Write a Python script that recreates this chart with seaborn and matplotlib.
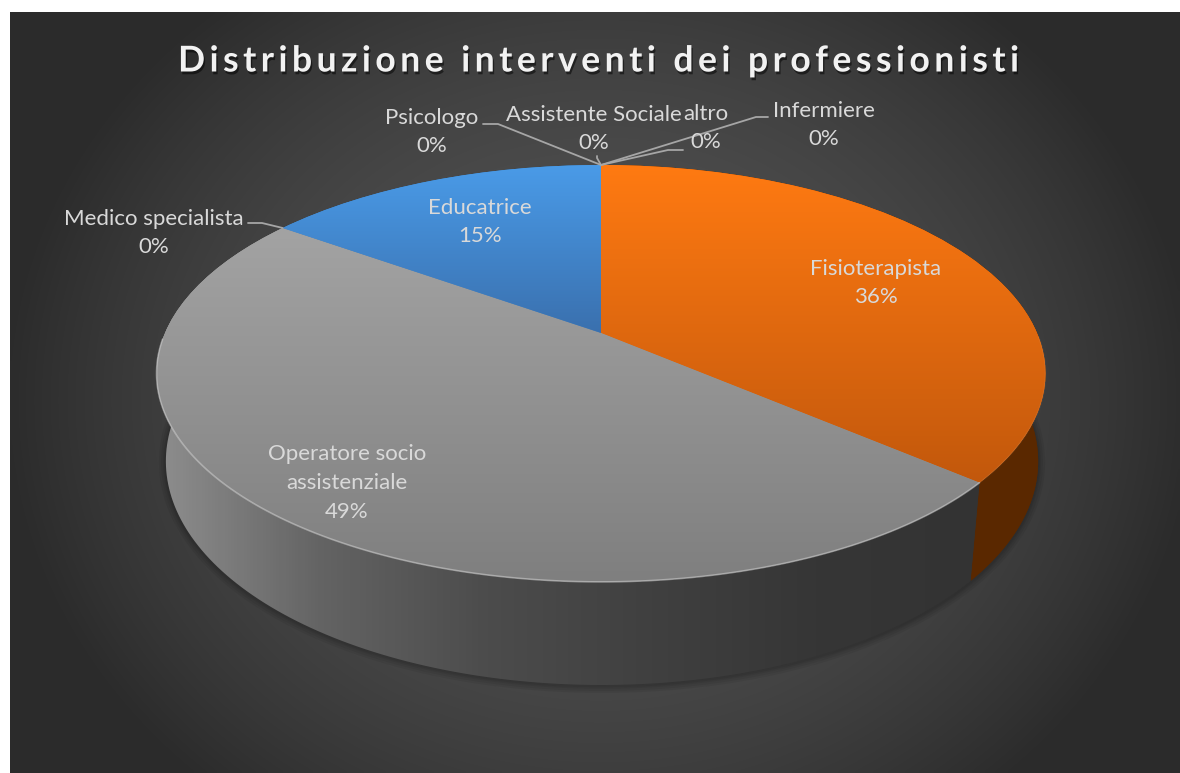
import numpy as np
import matplotlib
matplotlib.use("Agg")
import matplotlib.pyplot as plt
import matplotlib.patheffects as pe
from matplotlib.transforms import Transform
import seaborn as sns

# data
professioni = ["Fisioterapista", "Operatore socio\nassistenziale", "Medico specialista", "Educatrice",
               "Psicologo", "Assistente Sociale", "altro", "Infermiere"]
valori = [36.3, 48.6, 0, 15.1, 0, 0, 0, 0]
titolo = "Distribuzione interventi dei professionisti"

# colours: top of the slice, bottom of the slice, side wall from left to right
col_top = ["#ff7a12", "#a3a3a3", "#a3a3a3", "#4a9be8", "#777777", "#777777", "#777777", "#777777"]
col_bot = ["#c2580c", "#7f7f7f", "#828282", "#3a70ae", "#777777", "#777777", "#777777", "#777777"]
col_wall = [["#5e2b02", "#5a2800"],
            ["#8e8e8e", "#636363", "#4c4c4c", "#404040", "#363636", "#333333"],
            ["#555555", "#555555"],
            ["#333333", "#333333"],
            ["#555555", "#555555"], ["#555555", "#555555"], ["#555555", "#555555"], ["#555555", "#555555"]]
rim_alpha = [0.08, 0.55, 0, 0, 0, 0, 0, 0]

# label centre (pixels) and where the leader line starts, None = no leader
lab_pos = [(876, 283), (347, 483), (154, 233), (480, 222), (432, 132), (594, 129), (706, 128), (824, 125)]
lead = [None, None, [(248, 223), (262, 223)], None, [(483, 124), (498, 124)], [(597, 156), (597, 158)],
        [(683, 150), (668, 150)], [(768, 117), (756, 117)]]


class Tilt(Transform):
    # perspective view of the unit circle
    input_dims = 2
    output_dims = 2

    def __init__(self, cx, cy, a, b, k=0.194):
        super().__init__()
        self.cx, self.cy, self.a, self.b, self.k = cx, cy, a, b, k

    def transform_non_affine(self, values):
        values = np.asarray(values, dtype=float)
        d = 1 + self.k * values[:, 1]
        return np.column_stack([self.cx + self.a * values[:, 0] / d, self.cy - self.b * values[:, 1] / d])


def gradiente(poly, colori, zorder, vertical=True):
    cmap = sns.blend_palette(colori, as_cmap=True)
    g = np.linspace(0, 1, 256)
    g = g[:, None] if vertical else g[None, :]
    ext = (poly[:, 0].min(), poly[:, 0].max(), poly[:, 1].max(), poly[:, 1].min())
    return ax.imshow(g, cmap=cmap, vmin=0, vmax=1, extent=ext, aspect="auto", zorder=zorder)


sns.set_theme(style="white")
plt.rcParams["font.family"] = ["Lato", "DejaVu Sans"]

fig = plt.figure(figsize=(11.8, 7.73), dpi=100, facecolor="white")
ax = fig.add_axes([0, 0, 1, 1])

wedges, _ = ax.pie(valori, startangle=90, counterclock=False, colors=col_top, wedgeprops={"linewidth": 0})
ax.set_aspect("auto")
ax.set_xlim(0, 1180)
ax.set_ylim(773, 0)
ax.autoscale(False)
ax.axis("off")

# background panel
yy, xx = np.mgrid[12:773:4, 10:1180:4]
r2 = np.clip(((xx - 600) / 600) ** 2 + ((yy - 400) / 520) ** 2, 0, 1)
ax.imshow(r2, cmap=sns.blend_palette(["#525252", "#2b2b2b"], as_cmap=True), extent=(10, 1180, 773, 12),
          aspect="auto", zorder=0, interpolation="bilinear")

top = Tilt(601, 333, 436, 200.6)
low = Tilt(602, 421, 429, 216.5, k=0.18)

# soft shadow under the pie
t = np.linspace(0, 2 * np.pi, 400)
cerchio = np.column_stack([np.cos(t), np.sin(t)])
bordo = low.transform(cerchio)
for lw in [10, 7, 4, 2]:
    ax.plot(bordo[:, 0], bordo[:, 1] + 1, color="black", lw=lw, alpha=0.06, zorder=1)

for i, w in enumerate(wedges):
    if valori[i] == 0:
        w.set_visible(False)
        continue
    t = np.radians(np.linspace(w.theta1, w.theta2, 160))
    unit = np.column_stack([np.cos(t), np.sin(t)])
    su, giu = top.transform(unit), low.transform(unit)

    # side wall
    muro = np.vstack([su, giu[::-1]])
    patch = ax.fill(muro[:, 0], muro[:, 1], color=col_wall[i][-1], lw=0, zorder=2)[0]
    im = gradiente(muro, col_wall[i], 3, vertical=False)
    im.set_clip_path(patch)

    # top face
    w.set_transform(top + ax.transData)
    w.set_zorder(4)
    faccia = np.vstack([su, top.transform([[0, 0]])])
    im = gradiente(faccia, [col_top[i], col_bot[i]], 5)
    im.set_clip_path(w)

    # light edge along the front of the rim
    fronte = unit[:, 1] < -0.02
    if rim_alpha[i] > 0:
        ax.plot(su[fronte, 0], su[fronte, 1], color="#cfcfcf", lw=1.2, alpha=rim_alpha[i], zorder=6)

# labels
for i, nome in enumerate(professioni):
    ax.text(lab_pos[i][0], lab_pos[i][1], f"{nome}\n{valori[i]:.0f}%", color="#d9d9d9", fontsize=16,
            ha="center", va="center", linespacing=1.55, zorder=8)
    if lead[i] is not None:
        th = np.radians(wedges[i].theta1)
        p = top.transform([[np.cos(th), np.sin(th)]])[0]
        xs = [q[0] for q in lead[i]] + [p[0]]
        ys = [q[1] for q in lead[i]] + [p[1]]
        ax.plot(xs, ys, color="#a6a6a6", lw=1.3, zorder=7)

# title, hair spaces for the wide tracking
ax.text(600, 61, "\u200a\u200a".join(titolo), color="#f2f2f2", fontsize=25.6, fontweight="bold", ha="center",
        va="center", zorder=8,
        path_effects=[pe.SimplePatchShadow(offset=(1, -2), shadow_rgbFace="black", alpha=0.5), pe.Normal()])

fig.savefig("out.png", dpi=100, facecolor="white")
